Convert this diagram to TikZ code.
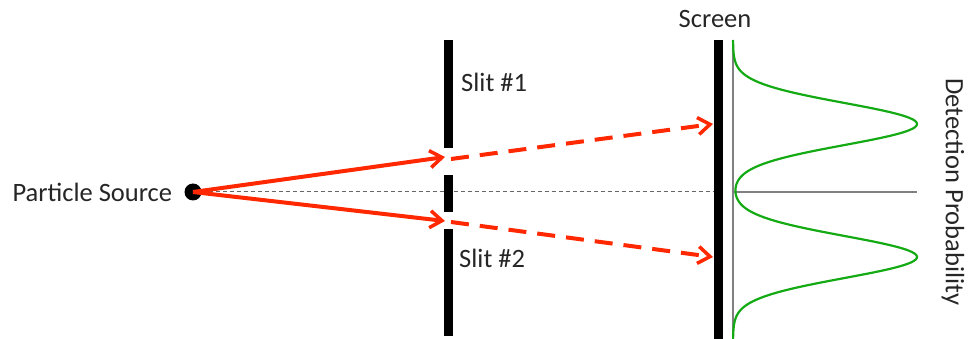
\documentclass[tikz,border=0pt]{standalone}
\usepackage{fontspec}
\setmainfont{Carlito}
\usepackage{tikz}
\usetikzlibrary{arrows.meta, positioning}
\definecolor{rayred}{RGB}{255,40,0}
\definecolor{curvegreen}{RGB}{20,170,20}
\tikzstyle{label} = [font=\fontsize{26.5}{30}\selectfont, text=black!85, inner sep=0pt]
\tikzstyle{barrier} = [line width=9pt]
\tikzstyle{ray} = [rayred, line width=4pt, -{Straight Barb[length=12pt, width=17pt, line width=3.5pt]}]
\tikzstyle{rayd} = [ray, dash pattern=on 18pt off 11pt]
\tikzstyle{axis} = [black!50, line width=1.2pt]

\begin{document}
\begin{tikzpicture}[x=1pt, y=-1pt]
	\useasboundingbox (0,0) rectangle (969,339);
	% source and centre line
	\node [circle, fill=black, inner sep=0pt, minimum size=17pt] (src) at (193,192) {};
	\node [label, left=12pt of src] (srclabel) {Particle Source};
	\coordinate (mid) at (713,192);
	\draw [black!60, line width=1pt, dash pattern=on 4pt off 3pt] (src) -- (mid);
	% slit wall
	\draw [barrier] (448,40) -- (448,148);
	\draw [barrier] (448,175) -- (448,212);
	\draw [barrier] (448,229) -- (448,336);
	\node [label, anchor=west] (slit1) at (461,82) {Slit \#1};
	\node [label, anchor=west] (slit2) at (459,258) {Slit \#2};
	% screen
	\draw [barrier] (718,40) -- (718,339);
	\node [label, anchor=south] (screen) at (715,28) {Screen};
	% rays
	\coordinate (h1) at (445,157);
	\coordinate (h2) at (445,221);
	\coordinate (a1) at (451,159);
	\coordinate (a2) at (451,222);
	\coordinate (t1) at (713,124);
	\coordinate (t2) at (713,257);
	\draw [ray] (src.center) -- (h1);
	\draw [ray] (src.center) -- (h2);
	\draw [rayd] (a1) -- (t1);
	\draw [rayd] (a2) -- (t2);
	% detection probability
	\coordinate (o) at (733,192);
	\draw [axis] (733,40) -- (733,339);
	\draw [axis] (o) -- (917,192);
	\draw [curvegreen, line width=2.2pt] plot [domain=40:339, samples=200, smooth]
		({733+184*(exp(-0.5*((\x-124)/21)^2)+exp(-0.5*((\x-257)/21)^2))}, \x);
	\node [label, rotate=-90] (prob) at (953,192) {Detection Probability};
\end{tikzpicture}
\end{document}
